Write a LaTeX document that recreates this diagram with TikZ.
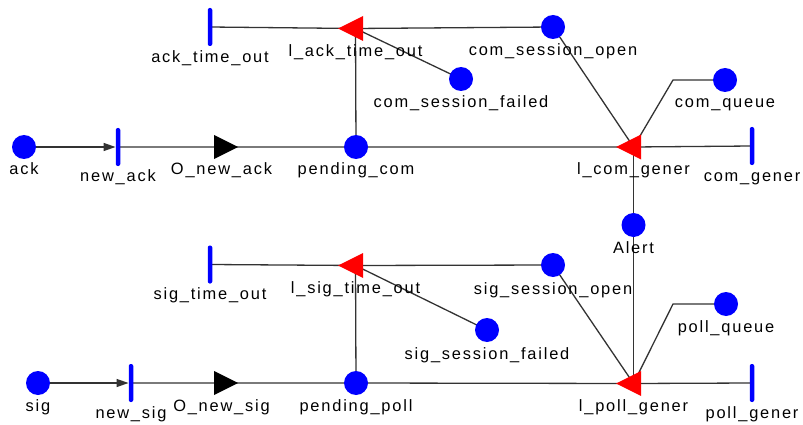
\documentclass[tikz,border=0pt]{standalone}
\usepackage{fontspec}
\setmainfont{Liberation Sans}[LetterSpace=11]
\usetikzlibrary{shapes.geometric,arrows.meta,backgrounds}
\tikzset{
  place/.style={circle,fill=blue,inner sep=0,minimum size=24},
  bar/.style={rectangle,rounded corners=2,fill=blue,inner sep=0,minimum width=4.5,minimum height=38},
  redtri/.style={isosceles triangle,isosceles triangle stretches,shape border rotate=180,fill=red,inner sep=0,minimum width=25,minimum height=25},
  blacktri/.style={isosceles triangle,isosceles triangle stretches,fill=black,inner sep=0,minimum width=24,minimum height=24},
  lbl/.style={anchor=base,inner sep=0,font=\fontsize{16.4}{18}\selectfont},
  arc/.style={draw=black!80,line width=1.3}
}
\begin{document}
\begin{tikzpicture}[x=1pt,y=-1pt]
\useasboundingbox (0,0) rectangle (803,425);

% upper net
\node [place] (ack) at (24,147) {};
\node [bar] (new_ack) at (118,147) {};
\node [blacktri] (O_new_ack) at (221.5,147) {};
\node [place] (pending_com) at (356,147) {};
\node [redtri] (l_com_gener) at (633.5,147) {};
\node [bar] (com_gener) at (752,146) {};
\node [bar] (ack_time_out) at (210,27) {};
\node [redtri] (l_ack_time_out) at (355.5,28.5) {};
\node [place] (com_session_open) at (553,27) {};
\node [place] (com_session_failed) at (461,79) {};
\node [place] (com_queue) at (725,80) {};
\coordinate (com_queue_bend) at (673,80);

\node [place] (Alert) at (633.5,225) {};

% lower net
\node [place] (sig) at (38,383) {};
\node [bar] (new_sig) at (131,383) {};
\node [blacktri] (O_new_sig) at (221.5,383) {};
\node [place] (pending_poll) at (356,383) {};
\node [redtri] (l_poll_gener) at (633.5,383.5) {};
\node [bar] (poll_gener) at (752,383) {};
\node [bar] (sig_time_out) at (210,264.5) {};
\node [redtri] (l_sig_time_out) at (355.5,265.5) {};
\node [place] (sig_session_open) at (553,265) {};
\node [place] (sig_session_failed) at (487,330) {};
\node [place] (poll_queue) at (726,304) {};
\coordinate (poll_queue_bend) at (673,304);

% labels
\node [lbl] (ack_t) at ([yshift=-28]ack.center) {ack};
\node [lbl] (new_ack_t) at ([yshift=-35]new_ack.center) {new\_ack};
\node [lbl] (O_new_ack_t) at ([yshift=-28]O_new_ack.center) {O\_new\_ack};
\node [lbl] (pending_com_t) at ([yshift=-28]pending_com.center) {pending\_com};
\node [lbl] (l_com_gener_t) at ([yshift=-28]l_com_gener.center) {l\_com\_gener};
\node [lbl] (com_gener_t) at ([yshift=-36]com_gener.center) {com\_gener};
\node [lbl] (ack_time_out_t) at ([yshift=-36]ack_time_out.center) {ack\_time\_out};
\node [lbl] (l_ack_time_out_t) at ([yshift=-28.5]l_ack_time_out.center) {l\_ack\_time\_out};
\node [lbl] (com_session_open_t) at ([yshift=-29]com_session_open.center) {com\_session\_open};
\node [lbl] (com_session_failed_t) at ([yshift=-29]com_session_failed.center) {com\_session\_failed};
\node [lbl] (com_queue_t) at ([yshift=-28]com_queue.center) {com\_queue};
\node [lbl] (Alert_t) at ([yshift=-28]Alert.center) {Alert};
\node [lbl] (sig_t) at ([yshift=-28]sig.center) {sig};
\node [lbl] (new_sig_t) at ([yshift=-35]new_sig.center) {new\_sig};
\node [lbl] (O_new_sig_t) at ([yshift=-28]O_new_sig.center) {O\_new\_sig};
\node [lbl] (pending_poll_t) at ([yshift=-28]pending_poll.center) {pending\_poll};
\node [lbl] (l_poll_gener_t) at ([yshift=-28]l_poll_gener.center) {l\_poll\_gener};
\node [lbl] (poll_gener_t) at ([yshift=-35]poll_gener.center) {poll\_gener};
\node [lbl] (sig_time_out_t) at ([yshift=-35]sig_time_out.center) {sig\_time\_out};
\node [lbl] (l_sig_time_out_t) at ([yshift=-28]l_sig_time_out.center) {l\_sig\_time\_out};
\node [lbl] (sig_session_open_t) at ([yshift=-29]sig_session_open.center) {sig\_session\_open};
\node [lbl] (sig_session_failed_t) at ([yshift=-29]sig_session_failed.center) {sig\_session\_failed};
\node [lbl] (poll_queue_t) at ([yshift=-28]poll_queue.center) {poll\_queue};

\begin{pgfonlayer}{background}
\draw [arc,-{Triangle[length=12,width=8]}] (ack.center) -- (new_ack.west);
\draw [arc] (new_ack.center) -- (O_new_ack.center) -- (pending_com.center) -- (l_com_gener.center) -- (com_gener.center);
\draw [arc] (pending_com.center) -- (l_ack_time_out.center);
\draw [arc] (ack_time_out.center) -- (l_ack_time_out.center) -- (com_session_open.center);
\draw [arc] (com_session_failed.center) -- (l_ack_time_out.center);
\draw [arc] (com_session_open.center) -- (l_com_gener.center);
\draw [arc] (com_queue.center) -- (com_queue_bend) -- (l_com_gener.center);
\draw [arc] (l_com_gener.center) -- (Alert.center) -- (l_poll_gener.center);

\draw [arc,-{Triangle[length=12,width=8]}] (sig.center) -- (new_sig.west);
\draw [arc] (new_sig.center) -- (O_new_sig.center) -- (pending_poll.center) -- (l_poll_gener.center) -- (poll_gener.center);
\draw [arc] (pending_poll.center) -- (l_sig_time_out.center);
\draw [arc] (sig_time_out.center) -- (l_sig_time_out.center) -- (sig_session_open.center);
\draw [arc] (sig_session_failed.center) -- (l_sig_time_out.center);
\draw [arc] (sig_session_open.center) -- (l_poll_gener.center);
\draw [arc] (poll_queue.center) -- (poll_queue_bend) -- (l_poll_gener.center);
\end{pgfonlayer}
\end{tikzpicture}
\end{document}
